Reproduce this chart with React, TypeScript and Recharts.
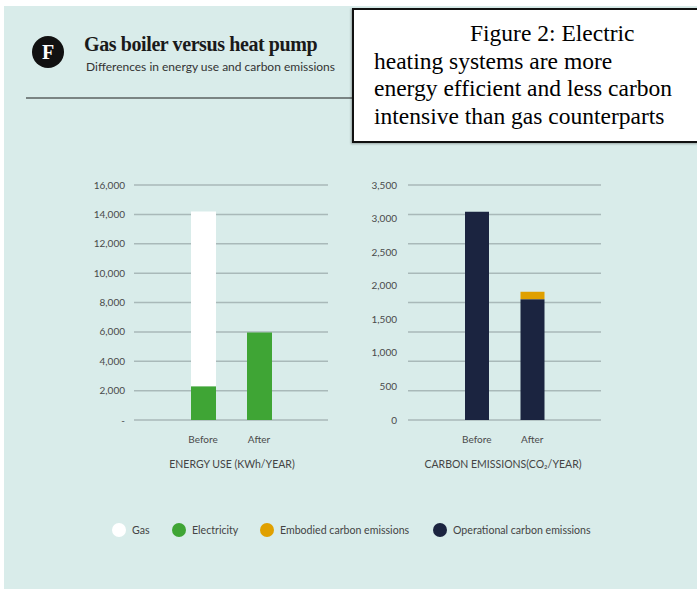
import React from 'react';
import { BarChart, Bar, XAxis, YAxis, CartesianGrid } from 'recharts';

const categories = ['Before', 'After'];
const electricityValues = [2300, 5950];
const gasValues = [11900, 0];
const operationalValues = [3100, 1800];
const embodiedValues = [0, 110];
const energyTicks = [0, 2000, 4000, 6000, 8000, 10000, 12000, 14000, 16000];
const carbonTicks = [0, 500, 1000, 1500, 2000, 2500, 3000, 3500];
const carbonGridValues = [0, 437.5, 875, 1312.5, 1750, 2187.5, 2625, 3062.5, 3500];

const legendItems = [
  { label: 'Gas', color: '#ffffff', x: 112 },
  { label: 'Electricity', color: '#3fa535', x: 172 },
  { label: 'Embodied carbon emissions', color: '#e0a000', x: 260 },
  { label: 'Operational carbon emissions', color: '#1b2440', x: 433 },
];

const energyData = categories.map((name, i) => ({
  name,
  electricity: electricityValues[i],
  gas: gasValues[i],
}));
const carbonData = categories.map((name, i) => ({
  name,
  operational: operationalValues[i],
  embodied: embodiedValues[i],
}));

const BG = '#d9ecea';
const GRID = '#a9b9b9';
const TICK = { fontSize: 10, fill: '#4a4a4a', fontFamily: 'Lato' };
const fmt = (v: number) => (v === 0 ? '-' : v.toLocaleString('en-US'));
const fmt2 = (v: number) => v.toLocaleString('en-US');

export default function App() {
  return (
    <div style={{ position: 'absolute', left: 0, top: 0, width: 697, height: 589, background: '#ffffff', overflow: 'hidden' }}>
      <div style={{ position: 'absolute', left: 4, top: 6, width: 693, height: 583, background: BG }} />

      {/* header */}
      <div style={{ position: 'absolute', left: 32, top: 36, width: 32, height: 32, borderRadius: 16, background: '#111', color: '#fff', fontFamily: 'Liberation Serif', fontWeight: 700, fontSize: 20, lineHeight: '32px', textAlign: 'center' }}>F</div>
      <div style={{ position: 'absolute', left: 84, top: 33, fontFamily: 'Liberation Serif', fontWeight: 700, fontSize: 20, letterSpacing: -0.4, color: '#1a1a1a', whiteSpace: 'nowrap' }}>Gas boiler versus heat pump</div>
      <div style={{ position: 'absolute', left: 86, top: 59, fontFamily: 'Lato', fontSize: 12, color: '#333', whiteSpace: 'nowrap' }}>Differences in energy use and carbon emissions</div>
      <div style={{ position: 'absolute', left: 26, top: 97, width: 330, height: 2, background: '#7a8483' }} />

      {/* caption box */}
      <div style={{ position: 'absolute', left: 352, top: 8, width: 323, height: 121, background: '#fff', border: '2px solid #111', boxShadow: '-1px 1px 2px rgba(0,0,0,0.3)', fontFamily: 'Liberation Serif', fontSize: 23.5, lineHeight: '27.7px', color: '#000', padding: '10px 0 0 20px', boxSizing: 'content-box' }}>
        <div style={{ textIndent: 96, whiteSpace: 'nowrap' }}>Figure 2: Electric</div>
        <div style={{ whiteSpace: 'nowrap' }}>heating systems are more</div>
        <div style={{ whiteSpace: 'nowrap' }}>energy efficient and less carbon</div>
        <div style={{ whiteSpace: 'nowrap' }}>intensive than gas counterparts</div>
      </div>

      {/* left chart */}
      <div style={{ position: 'absolute', left: 60, top: 170 }}>
        <BarChart width={290} height={300} data={energyData} margin={{ top: 15, right: 22, left: 0, bottom: 20 }}>
          <CartesianGrid horizontal vertical={false} stroke={GRID} strokeWidth={1.5} />
          <XAxis dataKey="name" axisLine={false} tickLine={false} tickSize={0} tickMargin={16} height={30} padding={{ left: 41, right: 41 }} tick={TICK} />
          <YAxis width={74} domain={[0, 16000]} ticks={energyTicks} interval={0} axisLine={false} tickLine={false} tickSize={0} tickMargin={9} tick={TICK} tickFormatter={fmt} />
          <Bar dataKey="electricity" stackId="a" fill="#3fa535" barSize={25} isAnimationActive={false} />
          <Bar dataKey="gas" stackId="a" fill="#ffffff" barSize={25} isAnimationActive={false} />
        </BarChart>
      </div>
      <div style={{ position: 'absolute', left: 132, top: 458, width: 200, textAlign: 'center', fontFamily: 'Lato', fontSize: 10.5, color: '#444' }}>ENERGY USE (KWh/YEAR)</div>

      {/* right chart */}
      <div style={{ position: 'absolute', left: 340, top: 170 }}>
        <BarChart width={290} height={300} data={carbonData} margin={{ top: 15, right: 29, left: 0, bottom: 20 }}>
          <CartesianGrid horizontal vertical={false} stroke={GRID} strokeWidth={1.5} horizontalValues={carbonGridValues} />
          <XAxis dataKey="name" axisLine={false} tickLine={false} tickSize={0} tickMargin={16} height={30} padding={{ left: 41, right: 41 }} tick={TICK} />
          <YAxis width={68} domain={[0, 3500]} ticks={carbonTicks} interval={0} axisLine={false} tickLine={false} tickSize={0} tickMargin={11} tick={TICK} tickFormatter={fmt2} />
          <Bar dataKey="operational" stackId="b" fill="#1b2440" barSize={24} isAnimationActive={false} />
          <Bar dataKey="embodied" stackId="b" fill="#e0a000" barSize={24} isAnimationActive={false} />
        </BarChart>
      </div>
      <div style={{ position: 'absolute', left: 403, top: 458, width: 200, textAlign: 'center', fontFamily: 'Lato', fontSize: 10.5, color: '#444' }}>CARBON EMISSIONS(CO₂/YEAR)</div>

      {/* legend */}
      {legendItems.map((it) => (
        <div key={it.label} style={{ position: 'absolute', left: it.x, top: 523, height: 14, display: 'flex', alignItems: 'center', whiteSpace: 'nowrap' }}>
          <div style={{ width: 14, height: 14, borderRadius: 7, background: it.color }} />
          <span style={{ marginLeft: 6, fontFamily: 'Lato', fontSize: 10.6, color: '#444' }}>{it.label}</span>
        </div>
      ))}
    </div>
  );
}
